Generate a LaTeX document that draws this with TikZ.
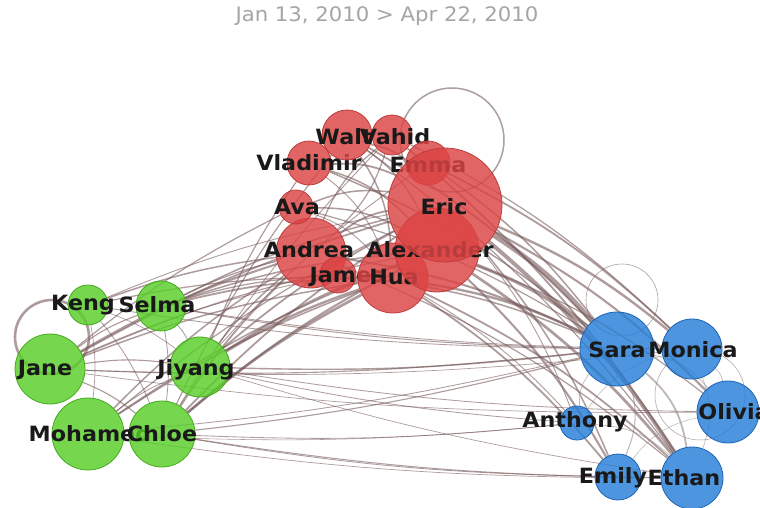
\documentclass[tikz,border=0pt]{standalone}
\usepackage{fontspec}
\newfontfamily\lab{DejaVu Sans}[FakeStretch=1.06]
\newfontfamily\ttl{DejaVu Sans}[FakeStretch=1.06]
\pgfdeclarelayer{bg}
\pgfdeclarelayer{edges}
\pgfsetlayers{bg,edges,main}
\definecolor{rfill}{RGB}{220,68,68}
\definecolor{rdraw}{RGB}{190,60,60}
\definecolor{gfill}{RGB}{88,205,40}
\definecolor{gdraw}{RGB}{70,170,30}
\definecolor{bfill}{RGB}{38,126,215}
\definecolor{bdraw}{RGB}{30,100,180}
\definecolor{edgec}{RGB}{120,90,90}
\definecolor{loopc}{RGB}{150,135,135}
\definecolor{titlec}{RGB}{165,165,165}
\tikzset{
  nd/.style={circle,inner sep=0pt,fill opacity=0.82,line width=0.8pt},
  rn/.style={nd,fill=rfill,draw=rdraw},
  gn/.style={nd,fill=gfill,draw=gdraw},
  bn/.style={nd,fill=bfill,draw=bdraw},
  lbl/.style={inner sep=0pt,font=\lab\bfseries\fontsize{21}{21}\selectfont,text=black!90},
  ed/.style={draw=edgec,draw opacity=0.6},
  lp/.style={draw=loopc,draw opacity=0.8,fill=none}
}
\begin{document}
\begin{tikzpicture}[x=1pt,y=-1pt]
\useasboundingbox (0,0) rectangle (760,508);
\begin{pgfonlayer}{bg}
\fill[white] (0,0) rectangle (760,508);
\end{pgfonlayer}
\node[inner sep=0pt,font=\ttl\fontsize{20}{20}\selectfont,text=titlec] (title) at (387,16) {Jan 13, 2010 > Apr 22, 2010};

% ---------- green ----------
\node[gn,minimum size=40pt] (keng) at (88,305) {};
\node[lbl] (keng-l) at (83,305) {Keng};
\node[gn,minimum size=50pt] (selma) at (161,306) {};
\node[lbl] (selma-l) at (157,305) {Selma};
\node[gn,minimum size=70pt] (jane) at (50,369) {};
\node[lbl] (jane-l) at (45,370) {Jane};
\node[gn,minimum size=60pt] (jiyang) at (200,367) {};
\node[lbl] (jiyang-l) at (196,370) {Jiyang};
\node[gn,minimum size=72pt] (mohamed) at (88,434) {};
\node[lbl] (mohamed-l) at (90,434) {Mohamed};
\node[gn,minimum size=66pt] (chloe) at (162,434) {};
\node[lbl] (chloe-l) at (162,434) {Chloe};

% ---------- blue ----------
\node[bn,minimum size=34pt] (anthony) at (577,423) {};
\node[lbl] (anthony-l) at (575,422) {Anthony};
\node[bn,minimum size=46pt] (emily) at (618,477) {};
\node[lbl] (emily-l) at (613,478) {Emily};
\node[bn,minimum size=62pt] (ethan) at (692,478) {};
\node[lbl] (ethan-l) at (684,478) {Ethan};
\node[bn,minimum size=74pt] (sara) at (617,349) {};
\node[lbl] (sara-l) at (617,350) {Sara};
\node[bn,minimum size=60pt] (monica) at (692,349) {};
\node[lbl] (monica-l) at (693,350) {Monica};
\node[bn,minimum size=62pt] (olivia) at (728,412) {};
\node[lbl] (olivia-l) at (734,412) {Olivia};

% ---------- red ----------
\node[rn,minimum size=70pt] (andrea) at (311,253) {};
\node[lbl] (andrea-l) at (309,250) {Andrea};
\node[rn,minimum size=36pt] (james) at (338,275) {};
\node[lbl] (james-l) at (347,277) {James};
\node[rn,minimum size=70pt] (hua) at (393,278) {};
\node[lbl] (hua-l) at (394,277) {Hua};
\node[rn,minimum size=34pt] (ava) at (296,207) {};
\node[lbl] (ava-l) at (297,207) {Ava};
\node[rn,minimum size=44pt] (vladimir) at (309,163) {};
\node[lbl] (vladimir-l) at (309,163) {Vladimir};
\node[rn,minimum size=50pt] (walt) at (347,135) {};
\node[lbl] (walt-l) at (344,137) {Walt};
\node[rn,minimum size=40pt] (vahid) at (392,135) {};
\node[lbl] (vahid-l) at (395,137) {Vahid};
\node[rn,minimum size=44pt] (emma) at (428,163) {};
\node[lbl] (emma-l) at (428,165) {Emma};
\node[rn,minimum size=84pt] (alexander) at (437,250) {};
\node[lbl] (alexander-l) at (430,250) {Alexander};
\node[rn,minimum size=114pt] (eric) at (445,205) {};
\node[lbl] (eric-l) at (444,207) {Eric};

% ---------- edges ----------
\begin{pgfonlayer}{edges}
% self loops
\coordinate (loopR) at (452,140);
\coordinate (loopG) at (52,337);
\coordinate (loopB) at (622,300);
\coordinate (loopB2) at (700,395);
\draw[lp,line width=1.5pt] (loopR) circle[radius=52];
\draw[lp,line width=2.6pt,draw=edgec,draw opacity=0.6] (loopG) circle[radius=37];
\draw[lp,line width=0.6pt] (loopB) circle[radius=36];
\draw[lp,line width=0.5pt] (loopB2) circle[radius=45];
% red - blue
\foreach \a/\b/\w in {eric/sara/3.2,eric/ethan/2.6,alexander/sara/2.2,alexander/ethan/1.8,eric/monica/1.6,
  eric/olivia/1.4,hua/sara/1.6,hua/emily/1.2,andrea/sara/1.4,walt/sara/1.2,vahid/ethan/1.2,
  emma/monica/1.2,alexander/emily/1.4,eric/emily/1.0,vladimir/sara/1.0,james/sara/1.0,
  hua/ethan/1.2,alexander/olivia/0.8,walt/ethan/0.8,emma/sara/1.0,andrea/ethan/0.8,hua/anthony/0.6,
  eric/anthony/0.6,vahid/monica/0.8,ava/sara/0.8}
  \draw[ed,line width={\w*1.5pt}] (\a) to[bend left=8] (\b);
% green - red
\foreach \a/\b/\w in {jane/andrea/1.4,jane/eric/1.2,jane/hua/1.0,keng/andrea/1.0,selma/hua/1.2,
  selma/eric/1.0,selma/alexander/1.0,jiyang/hua/1.6,jiyang/alexander/1.4,jiyang/eric/1.2,
  chloe/hua/1.8,chloe/eric/1.2,chloe/andrea/1.2,mohamed/alexander/1.0,mohamed/andrea/1.0,
  chloe/walt/0.8,jiyang/vladimir/0.8,jane/ava/0.8,keng/hua/0.8,selma/andrea/0.8,mohamed/hua/1.0,
  jane/alexander/0.8,chloe/alexander/1.4,jiyang/andrea/1.0,keng/eric/0.6,selma/james/0.8,
  mohamed/eric/0.8,jane/james/0.6,chloe/vahid/0.6,jiyang/emma/0.6}
  \draw[ed,line width={\w*1.5pt}] (\a) to[bend left=6] (\b);
% green - blue
\foreach \a/\b/\w in {jane/sara/0.8,jiyang/sara/1.0,jiyang/olivia/0.6,chloe/ethan/0.7,chloe/anthony/0.6,
  mohamed/sara/0.6,selma/monica/0.6,jane/olivia/0.5,keng/sara/0.6,chloe/emily/0.6,jiyang/anthony/0.6,
  mohamed/ethan/0.5,selma/sara/0.7,jane/monica/0.5,chloe/sara/0.8,mohamed/anthony/0.4,jiyang/ethan/0.5}
  \draw[ed,line width={\w*1.4pt}] (\a) to[bend right=4] (\b);
% green - green
\foreach \a/\b/\w in {keng/chloe/0.6,selma/chloe/0.6,jane/jiyang/0.8,selma/jiyang/0.6,jane/chloe/0.8,
  keng/mohamed/0.5,keng/jiyang/0.5,jane/selma/0.8,mohamed/jiyang/0.6}
  \draw[ed,line width={\w*1.4pt}] (\a) to[bend left=8] (\b);
% blue - blue
\foreach \a/\b/\w in {sara/ethan/1.4,sara/emily/0.8,monica/olivia/0.5,anthony/ethan/0.5,sara/olivia/0.6,
  monica/ethan/0.5,emily/olivia/0.4,anthony/monica/0.4,anthony/sara/0.5}
  \draw[ed,line width={\w*1.3pt},draw=loopc] (\a) to[bend left=20] (\b);
% red - red
\foreach \a/\b/\w in {walt/eric/1.2,vladimir/eric/1.2,ava/eric/1.0,andrea/eric/1.2,walt/hua/1.0,
  vahid/andrea/0.8,ava/alexander/1.0,vladimir/alexander/1.0,walt/alexander/0.8,andrea/vahid/0.8,
  ava/hua/0.6,vladimir/hua/0.6}
  \draw[ed,line width={\w*1.5pt}] (\a) to[bend left=14] (\b);
\end{pgfonlayer}
\end{tikzpicture}
\end{document}
